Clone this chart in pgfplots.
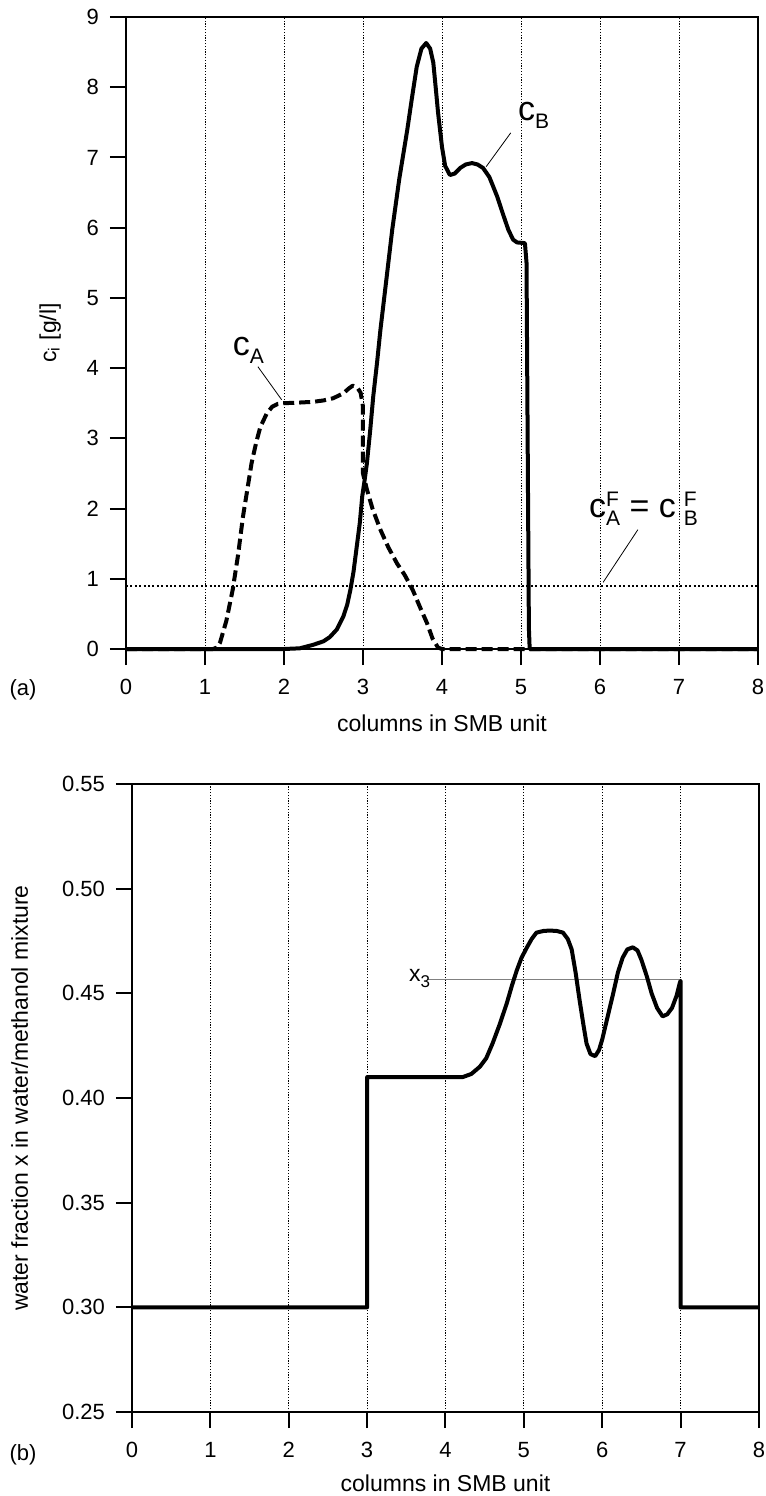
\documentclass[border=0pt]{standalone}
\usepackage{fontspec}
\setmainfont{Liberation Sans}
\usepackage{pgfplots}
\pgfplotsset{compat=1.18}
\newcommand{\sub}[1]{\raisebox{-4pt}{\fontsize{10.5}{12}\selectfont #1}}
\newcommand{\supsub}[2]{\rlap{\raisebox{5.5pt}{\fontsize{10.5}{12}\selectfont #1}}\raisebox{-4pt}{\fontsize{10.5}{12}\selectfont #2}}
\begin{document}
\begin{tikzpicture}
\pgfplotsset{
  smb/.style={
    scale only axis,
    axis line style={line width=1pt},
    tick align=outside,
    tick pos=left,
    major tick length=8pt,
    tick style={line width=1pt, black},
    xmin=0, xmax=8, xtick={0,...,8},
    xmajorgrids,
    grid style={black, line width=0.4pt, dash pattern=on 0.6pt off 0.8pt},
    /pgf/number format/assume math mode=true,
    tick label style={font=\fontsize{11}{12}\selectfont},
    xticklabel style={yshift=-3.5pt},
    yticklabel style={xshift=-2pt},
    label style={font=\fontsize{11.5}{13}\selectfont},
    xlabel={columns in SMB unit},
    clip=false,
  },
  curve/.style={black, line width=2pt, line join=round},
  leader/.style={black, line width=0.4pt},
}

% (a) concentrations
\begin{axis}[smb,
  at={(63pt,-324.5pt)}, anchor=south west,
  width=316pt, height=316pt,
  ymin=0, ymax=9, ytick={0,...,9},
  ylabel={c\textsubscript{i} [g/l]},
  ylabel style={at={(axis description cs:-0.12,0.5)}, anchor=center},
  xlabel style={at={(axis description cs:0.5,-0.117)}, anchor=center},
]
  % feed concentration
  \addplot[black, line width=1pt, dash pattern=on 1pt off 1.2pt] coordinates {(0,0.9) (8,0.9)};
  % c_A
  \addplot[curve, dash pattern=on 5.5pt off 2.5pt] coordinates {
    (0,0) (1.1,0) (1.15,0.02) (1.19,0.09) (1.27,0.4) (1.35,0.84) (1.42,1.35)
    (1.48,1.88) (1.54,2.3) (1.59,2.65) (1.65,2.95) (1.70,3.16) (1.78,3.35)
    (1.85,3.45) (1.92,3.49) (1.99,3.50) (2.2,3.51) (2.37,3.52) (2.5,3.54)
    (2.62,3.57) (2.75,3.64) (2.82,3.71) (2.87,3.75) (2.93,3.72) (2.97,3.65)
    (3.0,3.45) (3.0,2.5) (3.05,2.27) (3.12,2.0) (3.22,1.7) (3.32,1.45)
    (3.43,1.22) (3.53,1.05) (3.63,0.84) (3.72,0.6) (3.81,0.37) (3.88,0.15)
    (3.95,0.02) (4.0,0) (8,0)
  };
  % c_B
  \addplot[curve] coordinates {
    (0,0) (2.0,0) (2.2,0.01) (2.37,0.06) (2.5,0.11) (2.58,0.17) (2.67,0.28)
    (2.75,0.46) (2.80,0.63) (2.84,0.84) (2.88,1.1) (2.92,1.45) (2.96,1.8)
    (2.99,2.17) (3.02,2.4) (3.05,2.65) (3.09,3.1) (3.13,3.6) (3.18,4.1)
    (3.22,4.54) (3.3,5.3) (3.37,5.97) (3.46,6.7) (3.56,7.39) (3.62,7.85)
    (3.68,8.29) (3.74,8.55) (3.80,8.63) (3.85,8.55) (3.89,8.35) (3.92,8.0)
    (3.95,7.64) (4.0,7.15) (4.04,6.88) (4.10,6.75) (4.16,6.77) (4.23,6.85)
    (4.3,6.9) (4.38,6.92) (4.45,6.9) (4.52,6.85) (4.6,6.72) (4.70,6.44)
    (4.77,6.2) (4.84,5.97) (4.9,5.83) (4.95,5.79) (5.05,5.78) (5.07,5.5)
    (5.09,2.0) (5.1,0.3) (5.11,0) (8,0)
  };
  % leader lines
  \addplot[leader] coordinates {(1.67,4.02) (1.97,3.55)};
  \addplot[leader] coordinates {(4.87,7.35) (4.56,6.87)};
  \addplot[leader] coordinates {(6.48,1.70) (6.04,0.95)};
  \node[font=\fontsize{17}{19}\selectfont, inner sep=0pt] at (axis cs:1.55,4.25) {c\sub{A}};
  \node[font=\fontsize{17}{19}\selectfont, inner sep=0pt] at (axis cs:5.16,7.6) {c\sub{B}};
  \node[font=\fontsize{17}{19}\selectfont, inner sep=0pt] at (axis cs:6.55,2.0) {c\supsub{F}{A} = c\hspace{4pt}\supsub{F}{B}};
\end{axis}
\node[font=\fontsize{11}{13}\selectfont] at (11.5pt,-345pt) {(a)};

% (b) water fraction
\begin{axis}[smb,
  at={(66pt,-706pt)}, anchor=south west,
  width=313.5pt, height=314pt,
  ymin=0.25, ymax=0.55, ytick={0.25,0.30,...,0.56},
  yticklabel style={/pgf/number format/.cd, fixed, fixed zerofill, precision=2},
  ylabel={water fraction x in water/methanol mixture},
  ylabel style={at={(axis description cs:-0.179,0.5)}, anchor=center},
  xlabel style={at={(axis description cs:0.5,-0.114)}, anchor=center},
]
  \addplot[gray, line width=0.5pt] coordinates {(3.76,0.4565) (7.0,0.4565)};
  \addplot[curve] coordinates {
    (0,0.30) (3,0.30) (3,0.41) (4.22,0.41) (4.33,0.4115) (4.44,0.415)
    (4.52,0.419) (4.60,0.426) (4.69,0.435) (4.78,0.445) (4.85,0.454)
    (4.91,0.461) (4.97,0.467) (5.04,0.472) (5.1,0.476) (5.16,0.479)
    (5.25,0.4798) (5.33,0.480) (5.42,0.4798) (5.50,0.479) (5.56,0.476)
    (5.61,0.471) (5.66,0.46) (5.71,0.447) (5.76,0.435) (5.80,0.426)
    (5.85,0.421) (5.91,0.42) (5.96,0.423) (6.0,0.428) (6.07,0.439)
    (6.14,0.45) (6.20,0.46) (6.26,0.467) (6.32,0.471) (6.39,0.472)
    (6.45,0.4705) (6.50,0.466) (6.57,0.458) (6.63,0.45) (6.70,0.443)
    (6.77,0.439) (6.83,0.440) (6.89,0.443) (6.95,0.449) (6.99,0.455)
    (7.0,0.456) (7.0,0.30) (8,0.30)
  };
  \node[font=\fontsize{11.5}{13}\selectfont, inner sep=0pt] at (axis cs:3.67,0.457) {x\raisebox{-3pt}{\fontsize{8.5}{9}\selectfont 3}};
\end{axis}
\node[font=\fontsize{11}{13}\selectfont] at (11.5pt,-727.5pt) {(b)};

\pgfresetboundingbox
\useasboundingbox (0,0) rectangle (383pt,-748pt);
\end{tikzpicture}
\end{document}
